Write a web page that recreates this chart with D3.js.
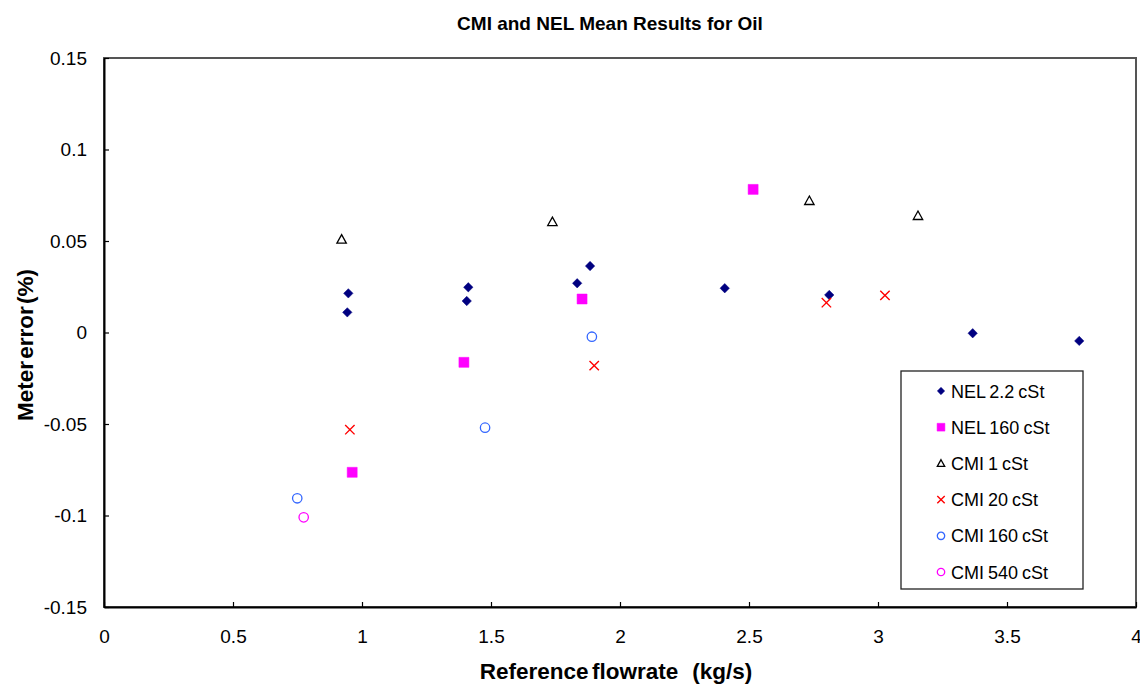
<!DOCTYPE html>
<html>
<head>
<meta charset="utf-8">
<script src="https://cdn.jsdelivr.net/npm/d3@7"></script>
<style>
  body { margin: 0; background: #fff; }
  svg { font-family: "Liberation Sans", Arial, sans-serif; }
</style>
</head>
<body>
<svg width="1140" height="684"></svg>
<script>
// data
const xTicks = [0, 0.5, 1, 1.5, 2, 2.5, 3, 3.5, 4];
const yTicks = [-0.15, -0.1, -0.05, 0, 0.05, 0.1, 0.15];

const nel22X = [0.947, 0.943, 1.412, 1.406, 1.884, 1.834, 2.406, 2.811, 3.367, 3.780];
const nel22Y = [0.0214, 0.0110, 0.0247, 0.0172, 0.0363, 0.0269, 0.0242, 0.0205, -0.0004, -0.0046];
const nel160X = [0.962, 1.395, 1.853, 2.516];
const nel160Y = [-0.0764, -0.0163, 0.0183, 0.0782];
const cmi1X = [0.921, 1.738, 2.734, 3.155];
const cmi1Y = [0.0509, 0.0605, 0.0720, 0.0638];
const cmi20X = [0.953, 1.900, 2.800, 3.027];
const cmi20Y = [-0.0531, -0.0181, 0.0163, 0.0203];
const cmi160X = [0.749, 1.477, 1.891];
const cmi160Y = [-0.0906, -0.0520, -0.0023];
const cmi540X = [0.774];
const cmi540Y = [-0.1010];

const series = [
  {name: "NEL 2.2 cSt", xs: nel22X, ys: nel22Y, shape: "diamond", color: "#000080"},
  {name: "NEL 160 cSt", xs: nel160X, ys: nel160Y, shape: "square", color: "#ff00ff"},
  {name: "CMI 1 cSt", xs: cmi1X, ys: cmi1Y, shape: "triangle", color: "#000000"},
  {name: "CMI 20 cSt", xs: cmi20X, ys: cmi20Y, shape: "cross", color: "#ff0000"},
  {name: "CMI 160 cSt", xs: cmi160X, ys: cmi160Y, shape: "circle", color: "#3366ff"},
  {name: "CMI 540 cSt", xs: cmi540X, ys: cmi540Y, shape: "circle", color: "#ff00ff"}
];

let svg = d3.select("svg");
let plotLeft = 104, plotRight = 1136, plotTop = 58, plotBottom = 607;

let x = d3.scaleLinear().domain([0, 4]).range([plotLeft, plotRight]);
let y = d3.scaleLinear().domain([-0.15, 0.15]).range([plotBottom, plotTop]);

// marker outline for a given shape, r = half width
function markerPath(shape, r) {
    let p = d3.path();
    if (shape === "diamond") {
        p.moveTo(0, -r); p.lineTo(r, 0); p.lineTo(0, r); p.lineTo(-r, 0); p.closePath();
    } else if (shape === "square") {
        p.rect(-r, -r, 2 * r, 2 * r);
    } else if (shape === "triangle") {
        p.moveTo(0, -r); p.lineTo(r, r * 0.8); p.lineTo(-r, r * 0.8); p.closePath();
    } else if (shape === "cross") {
        p.moveTo(-r, -r); p.lineTo(r, r); p.moveTo(r, -r); p.lineTo(-r, r);
    } else {
        p.arc(0, 0, r, 0, 2 * Math.PI);
    }
    return p.toString();
}

function styleMarker(sel, s) {
    let filled = s.shape === "diamond" || s.shape === "square";
    sel.attr("fill", filled ? s.color : "none")
        .attr("stroke", s.color)
        .attr("stroke-width", filled ? 0.5 : (s.shape === "cross" ? 1.4 : 1.3));
}

// excel style numbers, plain hyphen for minus
let fmt = d => String(+d.toFixed(2));

// plot frame
svg.append("rect")
    .attr("x", plotLeft).attr("y", plotTop)
    .attr("width", plotRight - plotLeft).attr("height", plotBottom - plotTop)
    .attr("fill", "none").attr("stroke", "#555").attr("stroke-width", 2);

// axes, ticks point inwards
let yAxis = svg.append("g")
    .attr("transform", "translate(" + plotLeft + ",0)")
    .call(d3.axisLeft(y).tickValues(yTicks).tickSizeInner(-5).tickSizeOuter(0)
        .tickPadding(17).tickFormat(fmt));
let xAxis = svg.append("g")
    .attr("transform", "translate(0," + plotBottom + ")")
    .call(d3.axisBottom(x).tickValues(xTicks).tickSizeInner(-5).tickSizeOuter(0)
        .tickPadding(23).tickFormat(fmt));

[yAxis, xAxis].forEach(a => {
    a.select(".domain").attr("stroke", "#000").attr("stroke-width", 2);
    a.selectAll(".tick line").attr("stroke", "#000").attr("stroke-width", 1.2);
    a.selectAll("text").attr("font-size", 19).attr("fill", "#000")
        .attr("font-family", "Liberation Sans, Arial, sans-serif");
});

// points
series.forEach(s => {
    let pts = s.xs.map((v, i) => [v, s.ys[i]]);
    let r = s.shape === "square" ? 5 : (s.shape === "circle" ? 4.7 : 4.7);
    svg.append("g").selectAll("path")
        .data(pts)
        .enter().append("path")
        .attr("transform", d => "translate(" + x(d[0]) + "," + y(d[1]) + ")")
        .attr("d", markerPath(s.shape, r))
        .call(styleMarker, s);
});

// titles
svg.append("text")
    .attr("x", 610).attr("y", 30)
    .attr("text-anchor", "middle")
    .attr("font-size", 19).attr("font-weight", "bold")
    .text("CMI and NEL Mean Results for Oil");

let xTitle = svg.append("text")
    .attr("x", 616).attr("y", 679)
    .attr("text-anchor", "middle")
    .attr("font-size", 22.5).attr("font-weight", "bold")
    .attr("word-spacing", -3);
xTitle.append("tspan").text("Reference flowrate");
xTitle.append("tspan").attr("dx", 14).text("(kg/s)");

svg.append("text")
    .attr("transform", "translate(33,345) rotate(-90)")
    .attr("text-anchor", "middle")
    .attr("font-size", 22.5).attr("font-weight", "bold")
    .attr("word-spacing", -4)
    .text("Meter error (%)");

// legend
let legend = svg.append("g").attr("transform", "translate(901,371)");
legend.append("rect")
    .attr("width", 182).attr("height", 218)
    .attr("fill", "#fff").attr("stroke", "#222").attr("stroke-width", 1.3);

let rows = legend.selectAll("g.row")
    .data(series)
    .enter().append("g")
    .attr("class", "row")
    .attr("transform", (d, i) => "translate(0," + (20 + i * 36.2) + ")");

rows.append("path")
    .attr("transform", "translate(40,0)")
    .attr("d", d => markerPath(d.shape, d.shape === "square" ? 3.9 : 3.7))
    .each(function(d) { d3.select(this).call(styleMarker, d); });

rows.append("text")
    .attr("x", 50).attr("y", 6.5)
    .attr("font-size", 18)
    .attr("word-spacing", -1)
    .text(d => d.name);
</script>
</body>
</html>
